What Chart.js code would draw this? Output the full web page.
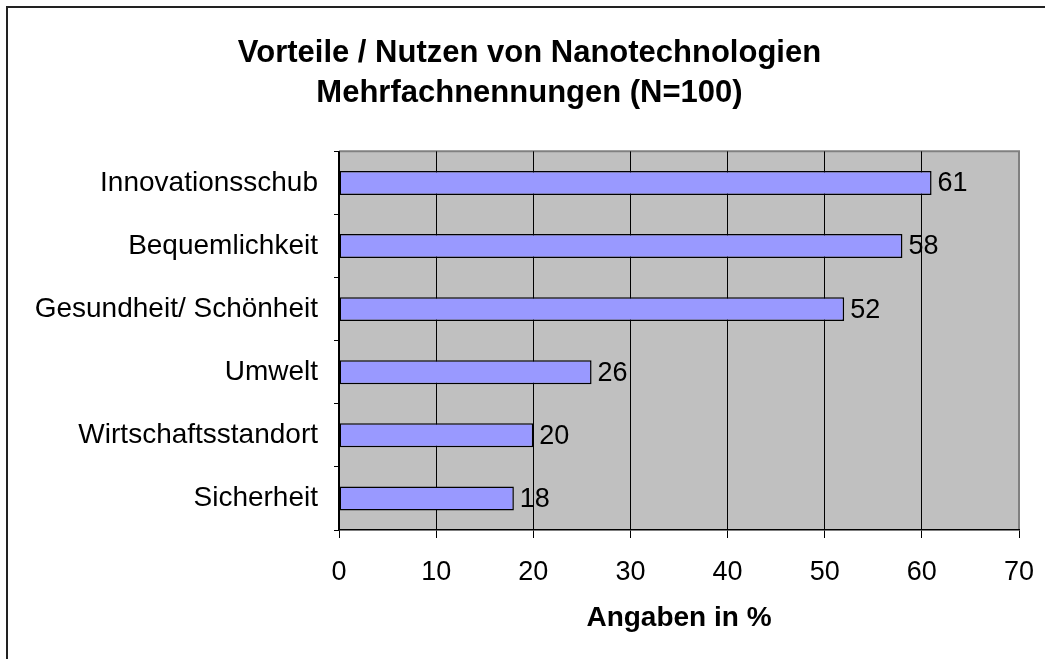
<!DOCTYPE html>
<html>
<head>
<meta charset="utf-8">
<script src="https://cdn.jsdelivr.net/npm/chart.js@4/dist/chart.umd.min.js"></script>
<style>
  html, body { margin: 0; padding: 0; background: #fff; }
  #wrap { width: 1045px; height: 659px; position: relative; }
</style>
</head>
<body>
<div id="wrap"><canvas id="c" width="1045" height="659"></canvas></div>
<script>
const categories = ["Innovationsschub", "Bequemlichkeit", "Gesundheit/ Schönheit", "Umwelt", "Wirtschaftsstandort", "Sicherheit"];
const values = [61, 58, 52, 26, 20, 18];
const xTicks = [0, 10, 20, 30, 40, 50, 60, 70];
const titleLines = ["Vorteile / Nutzen von Nanotechnologien", "Mehrfachnennungen (N=100)"];
const xAxisTitle = "Angaben in %";

const FONT = "'Liberation Sans', Arial, Helvetica, sans-serif";

const decor = {
  id: 'decor',
  afterLayout(chart) {
    if (chart.titleBlock) { chart.titleBlock.left = 40; }
  },
  beforeDraw(chart) {
    const {ctx, chartArea: a} = chart;
    ctx.save();
    ctx.fillStyle = '#fff';
    ctx.fillRect(0, 0, chart.width, chart.height);
    ctx.fillStyle = '#C0C0C0';
    ctx.fillRect(a.left, a.top, a.right - a.left, a.bottom - a.top);
    ctx.strokeStyle = '#808080';
    ctx.lineWidth = 2;
    ctx.beginPath();
    ctx.moveTo(a.left, a.top);
    ctx.lineTo(a.right, a.top);
    ctx.lineTo(a.right, a.bottom);
    ctx.stroke();
    ctx.strokeStyle = '#222';
    ctx.lineWidth = 2;
    ctx.strokeRect(7, 7, chart.width + 50, chart.height + 50);
    ctx.restore();
  },
  afterDatasetsDraw(chart) {
    const {ctx} = chart;
    const meta = chart.getDatasetMeta(0);
    ctx.save();
    ctx.font = '27px ' + FONT;
    ctx.fillStyle = '#000';
    ctx.textAlign = 'left';
    ctx.textBaseline = 'middle';
    meta.data.forEach((bar, i) => {
      ctx.fillText(String(values[i]), bar.x + 6, bar.y + 1);
    });
    ctx.restore();
  }
};

new Chart(document.getElementById('c'), {
  type: 'bar',
  data: {
    labels: categories,
    datasets: [{
      data: values,
      backgroundColor: '#9999FF',
      borderColor: '#000',
      borderWidth: 1.5,
      borderSkipped: false,
      categoryPercentage: 1,
      barPercentage: 0.38
    }]
  },
  options: {
    indexAxis: 'y',
    responsive: false,
    animation: false,
    devicePixelRatio: 1,
    layout: { padding: { left: 20, right: 26, top: 0, bottom: 0 } },
    plugins: {
      legend: { display: false },
      tooltip: { enabled: false },
      title: {
        display: true,
        text: titleLines,
        color: '#000',
        font: { family: FONT, size: 31, weight: 'bold', lineHeight: 1.28 },
        padding: { top: 34, bottom: 38 }
      }
    },
    scales: {
      x: {
        type: 'linear',
        min: 0,
        max: 70,
        afterBuildTicks(scale) { scale.ticks = xTicks.map(v => ({ value: v })); },
        afterFit(scale) { scale.height = 129; scale.paddingRight = 0; scale.paddingLeft = 0; },
        ticks: {
          color: '#000',
          font: { family: FONT, size: 27 },
          padding: 18,
          maxRotation: 0
        },
        grid: {
          color: (c) => (c.tick && c.tick.value === 70) ? '#808080' : '#000',
          lineWidth: 1,
          tickLength: 8,
          tickColor: '#000',
          drawOnChartArea: true
        },
        border: { display: true, color: '#000', width: 1.5 },
        title: {
          display: true,
          text: xAxisTitle,
          color: '#000',
          font: { family: FONT, size: 28, weight: 'bold' },
          padding: { top: 0, bottom: 24 }
        }
      },
      y: {
        type: 'category',
        afterFit(scale) { scale.width = 319; },
        ticks: {
          color: '#000',
          font: { family: FONT, size: 28 },
          padding: 16
        },
        grid: {
          offset: true,
          drawOnChartArea: false,
          tickLength: 5,
          tickColor: '#000',
          color: '#000'
        },
        border: { display: true, color: '#000', width: 1.5 }
      }
    }
  },
  plugins: [decor]
});
</script>
</body>
</html>
